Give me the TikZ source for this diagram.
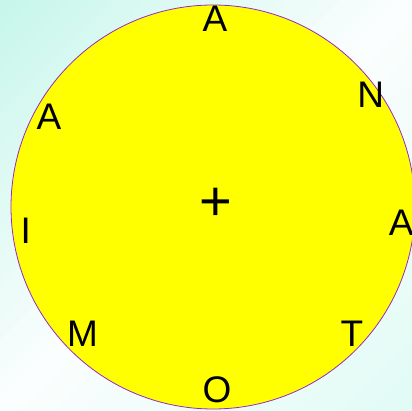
\documentclass[tikz,border=0pt]{standalone}
\usepackage{fontspec}
\setmainfont{Liberation Sans}
\usetikzlibrary{calc}

\definecolor{mintA}{RGB}{198,246,234}
\definecolor{mintB}{RGB}{251,254,254}
\definecolor{mintC}{RGB}{224,251,245}
\definecolor{disc}{RGB}{255,255,0}
\definecolor{rim}{RGB}{150,40,200}

\begin{document}
\begin{tikzpicture}[x=1pt, y=1pt]
	\def\W{412}		% picture width
	\def\H{411}		% picture height
	\def\r{202}		% disc radius
	\def\fs{\fontsize{37}{40}\selectfont}	% letter size

	% Background: bands across the diagonal
	\useasboundingbox (0, 0) rectangle (\W, \H);
	\begin{scope}
		\clip (0, 0) rectangle (\W, \H);
		\foreach \k in {0,...,79} {
			\pgfmathsetmacro\sa{-411+\k*10.3}
			\pgfmathsetmacro\sb{\sa+10.8}
			\pgfmathsetmacro\pct{min(100,(\k+.5)*2.5)}
			\pgfmathsetmacro\pcm{max(0,(\k+.5-40)*2.5)}
			\ifnum\k<40 \colorlet{band}{mintB!\pct!mintA}\else \colorlet{band}{mintC!\pcm!mintB}\fi
			\fill[band] (\sa-500, -500) -- (\sa+1000, 1000) -- (\sb+1000, 1000)
				-- (\sb-500, -500) -- cycle;
		}
	\end{scope}

	% Disc
	\coordinate (o) at (213, 204);		% disc centre
	\coordinate (c) at (215, 206);		% letter centre
	\fill[disc] (o) circle[radius=\r];
	\draw[rim, line width=.8pt] (o) circle[radius=\r];

	% Centre mark
	\node[inner sep=0pt, font=\fontsize{56}{60}\selectfont] (plus) at (216, 207) {+};

	% Letters round the rim
	\foreach \a/\d/\t [count=\i] in {90/186/A, 35.4/191/N, -5.5/187/A,
		-43.3/188/T, -89.4/185/O, -135.7/185/M, -172.2/191/I, 152/188/A}
		\node[inner sep=0pt, font=\fs] (l\i) at ($(c)+(\a:\d)$) {\t};
\end{tikzpicture}
\end{document}
